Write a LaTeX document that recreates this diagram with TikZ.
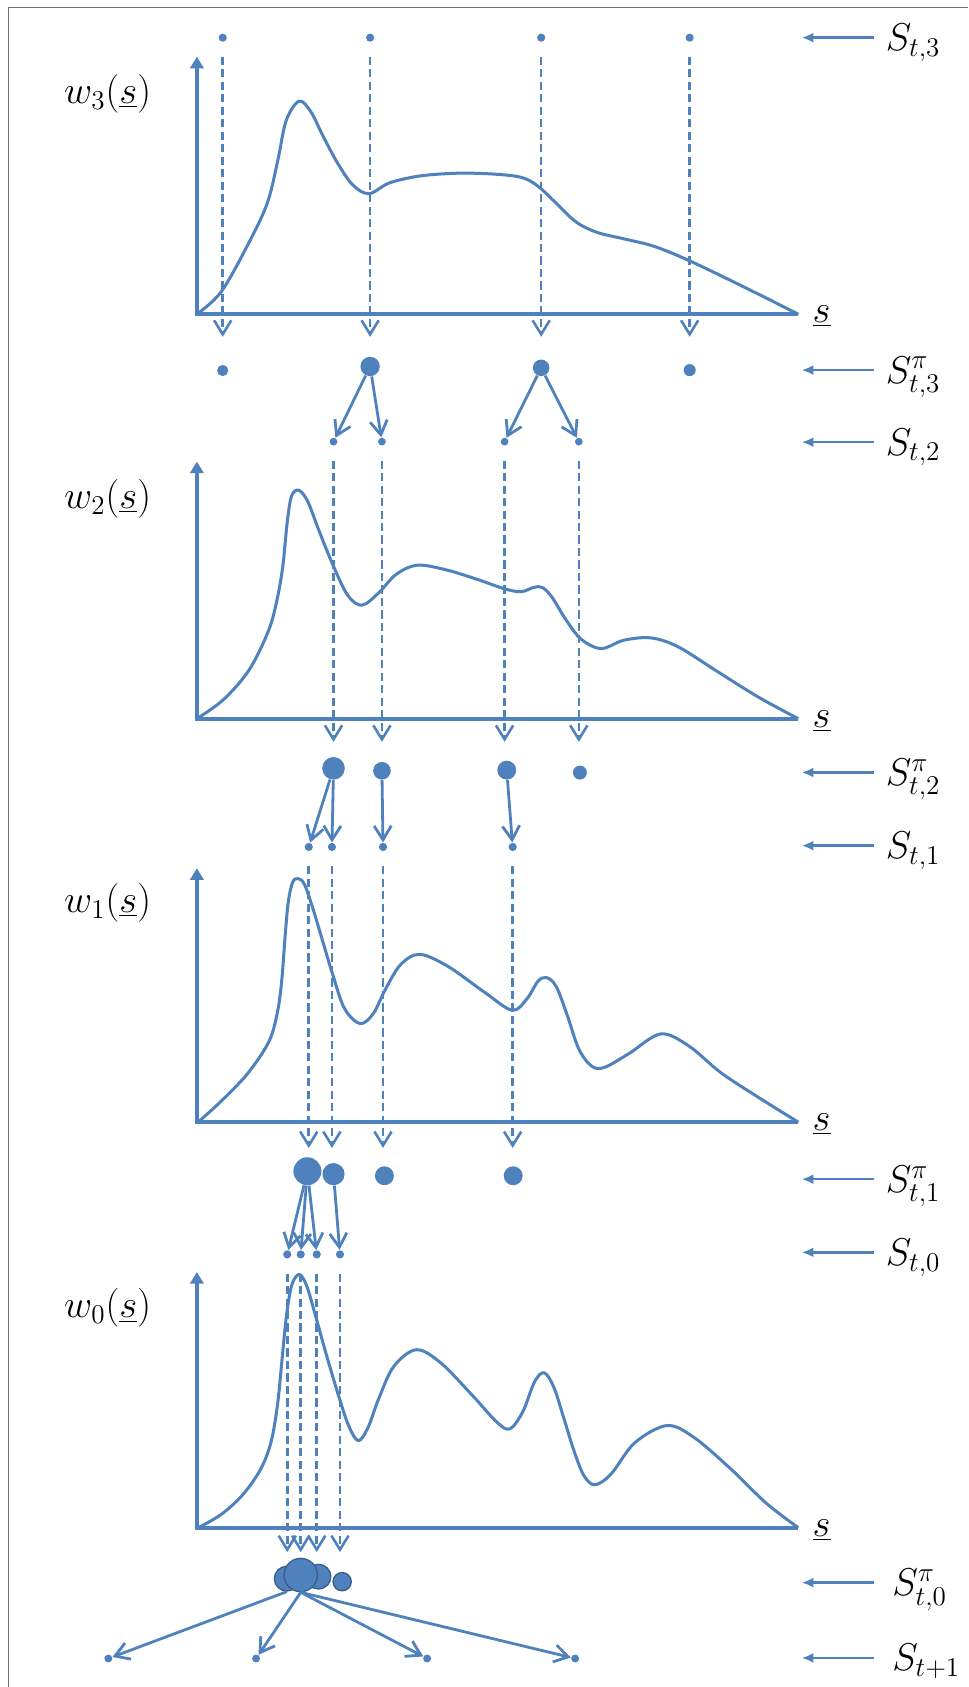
\RequirePackage{fix-cm}
\documentclass[tikz,border=0pt]{standalone}
\usetikzlibrary{arrows.meta}
\definecolor{pblue}{RGB}{79,129,189}
\definecolor{pdark}{RGB}{56,93,138}
\definecolor{framegray}{RGB}{110,110,110}
\begin{document}
\begin{tikzpicture}[x=0.5pt, y=-0.5pt, >={Straight Barb[length=6.5pt,width=8pt]},
  wcurve/.style={draw=pblue, line width=1.4pt, line join=round},
  waxis/.style={draw=pblue, line width=1.8pt, -{Triangle[length=5.4pt,width=6.2pt]}},
  samp/.style={->, draw=pblue, line width=1.2pt, dash pattern=on 3.8pt off 2pt, shorten <=6.8pt},
  resamp/.style={->, draw=pblue, line width=1.3pt},
  ptcl/.style={circle, fill=pblue, inner sep=0pt, minimum size=#1}, ptcl/.default=3.8pt,
  blob/.style={ptcl=#1, draw=pdark, line width=0.6pt},
  rowtag/.style={draw=pblue, line width=1.2pt, -{Latex[length=5.5pt,width=4.6pt]}, shorten <=5.5pt},
  lbl/.style={inner sep=0pt, font=\fontsize{18}{22}\selectfont}]
\useasboundingbox (0,0) rectangle (900,1568);
\draw[framegray, line width=0.7pt] (7.7,1568) -- (7.7,6.8) -- (900,6.8);

\coordinate (tip3) at (0,313);
\node[ptcl] (s3a) at (207,35) {};
\node[ptcl] (s3b) at (344,35) {};
\node[ptcl] (s3c) at (503,35) {};
\node[ptcl] (s3d) at (641,35) {};
\draw[waxis] (742,292) -- (183,292) -- (183,52.7);
\draw[wcurve] plot[smooth, tension=0.55] coordinates {(183,292) (205,272) (228,232) (248,190) (258,150) (266,112) (278,94) (289,104) (300,126) (314,152) (328,172) (343,180) (362,170) (390,163.6) (425,161) (459,161.8) (485,165) (500,173) (515,187) (535,206) (555,216) (580,222) (608,229) (640,242) (690,266) (742,292)};
\node[lbl, anchor=base] (w3) at (100,96) {$w_3(\underline{s})$};
\node[lbl, anchor=base west] (x3) at (755,300) {$\underline{s}$};
\draw[samp] (s3a) -- (s3a |- tip3);
\draw[samp] (s3b) -- (s3b |- tip3);
\draw[samp] (s3c) -- (s3c |- tip3);
\draw[samp] (s3d) -- (s3d |- tip3);
\node[ptcl=5.2pt, anchor=south] (p3a) at (207,350) {};
\node[ptcl=9pt, anchor=south] (p3b) at (344,350) {};
\node[ptcl=7.7pt, anchor=south] (p3c) at (503,350) {};
\node[ptcl=5.6pt, anchor=south] (p3d) at (641,350) {};

\node[ptcl=3.6pt] (s2a) at (310,410.5) {};
\node[ptcl=3.6pt] (s2b) at (355,410.5) {};
\node[ptcl=3.6pt] (s2c) at (469,410.5) {};
\node[ptcl=3.6pt] (s2d) at (538,410.5) {};
\draw[resamp] (p3b) -- (s2a);
\draw[resamp] (p3b) -- (s2b);
\draw[resamp] (p3c) -- (s2c);
\draw[resamp] (p3c) -- (s2d);

\coordinate (tip2) at (0,689.5);
\draw[waxis] (742,668) -- (183,668) -- (183,429);
\draw[wcurve] plot[smooth, tension=0.55] coordinates {(183,668) (208,650) (232,622) (250,585) (258,555) (263,525) (267,485) (271,461) (277.7,455.6) (286,466) (296,492) (309,524) (323,553) (336.4,562.5) (352,551) (368,534) (388,525.3) (416,530) (445,539) (468,547) (484,550) (496,546) (504,546) (513,555) (526,576) (540,594) (558.7,602.8) (580,595) (605,592.9) (630,601) (665,623) (705,648) (742,668)};
\node[lbl, anchor=base] (w2) at (100,473) {$w_2(\underline{s})$};
\node[lbl, anchor=base west] (x2) at (755,676) {$\underline{s}$};
\draw[samp] (s2a) -- (s2a |- tip2);
\draw[samp] (s2b) -- (s2b |- tip2);
\draw[samp] (s2c) -- (s2c |- tip2);
\draw[samp] (s2d) -- (s2d |- tip2);
\node[ptcl=10.5pt, anchor=south] (p2a) at (310,725) {};
\node[ptcl=8.2pt, anchor=south] (p2b) at (355,725) {};
\node[ptcl=8.8pt, anchor=south] (p2c) at (471,725) {};
\node[ptcl=6.5pt, anchor=south] (p2d) at (539,725) {};

\node[ptcl] (s1a) at (287,787.2) {};
\node[ptcl] (s1b) at (308.5,787.2) {};
\node[ptcl] (s1c) at (356,787.2) {};
\node[ptcl] (s1d) at (476.5,787.2) {};
\draw[resamp] (p2a) -- (s1a);
\draw[resamp] (p2a) -- (s1b);
\draw[resamp] (p2b) -- (s1c);
\draw[resamp] (p2c) -- (s1d);

\coordinate (tip1) at (0,1067);
\draw[waxis] (742,1043) -- (183,1043) -- (183,807);
\draw[wcurve] plot[smooth, tension=0.55] coordinates {(183,1044) (205,1024) (230,998) (250,968) (258,940) (262,910) (265,870) (268,838) (272,820) (277,816.6) (283,822) (291,845) (300,875) (309,905) (320,937) (334.6,951.4) (347,942) (358,920) (372,897) (389.7,887) (416,898) (450,922) (476,939) (490,928) (500,912) (508,908.6) (517,917) (527,943) (538,975) (550,991) (562,992) (585,979) (614,961) (640,972) (670,997) (705,1020) (742,1043)};
\node[lbl, anchor=base] (w1) at (100,848) {$w_1(\underline{s})$};
\node[lbl, anchor=base west] (x1) at (755,1051) {$\underline{s}$};
\draw[samp] (s1a) -- (s1a |- tip1);
\draw[samp] (s1b) -- (s1b |- tip1);
\draw[samp] (s1c) -- (s1c |- tip1);
\draw[samp] (s1d) -- (s1d |- tip1);
\node[ptcl=13pt, anchor=south] (p1a) at (285.7,1102) {};
\node[ptcl=10.3pt, anchor=south] (p1b) at (310,1102) {};
\node[ptcl=8.8pt, anchor=south] (p1c) at (357.3,1102) {};
\node[ptcl=8.8pt, anchor=south] (p1d) at (477,1102) {};

\node[ptcl] (s0a) at (267,1165.9) {};
\node[ptcl] (s0b) at (279.5,1165.9) {};
\node[ptcl] (s0c) at (294.4,1165.9) {};
\node[ptcl] (s0d) at (316,1165.9) {};
\draw[resamp] (p1a) -- (s0a);
\draw[resamp] (p1a) -- (s0b);
\draw[resamp] (p1a) -- (s0c);
\draw[resamp] (p1b) -- (s0d);

\coordinate (tip0) at (0,1442.6);
\draw[waxis] (742,1420) -- (183,1420) -- (183,1182.3);
\draw[wcurve] plot[smooth, tension=0.55] coordinates {(184,1420) (205,1408) (225,1390) (242,1366) (252,1340) (258,1305) (262,1265) (266,1225) (271,1195) (278,1184.5) (285,1195) (293,1222) (303,1258) (314,1295) (324,1325) (333,1339) (342,1327) (352,1300) (366,1270) (387,1254.5) (410,1267) (440,1298) (462,1322) (474,1328) (486,1312) (497,1284) (506,1276) (515,1290) (524,1318) (534,1350) (543,1372) (553,1380) (568,1370) (590,1341) (619.8,1325) (645,1336) (680,1366) (712,1397) (742,1420)};
\node[lbl, anchor=base] (w0) at (100,1225) {$w_0(\underline{s})$};
\node[lbl, anchor=base west] (x0) at (755,1428) {$\underline{s}$};
\draw[samp] (s0a) -- (s0a |- tip0);
\draw[samp] (s0b) -- (s0b |- tip0);
\draw[samp] (s0c) -- (s0c |- tip0);
\draw[samp] (s0d) -- (s0d |- tip0);
\node[blob=11.5pt, anchor=south] (p0a) at (266.5,1479.4) {};
\node[blob=11.5pt, anchor=south] (p0c) at (296,1477.5) {};
\node[blob=15.5pt, anchor=south] (p0b) at (279.5,1480) {};
\node[blob=8.5pt, anchor=south] (p0d) at (318,1479.2) {};

\node[ptcl=3.7pt] (n1) at (100.7,1541.5) {};
\node[ptcl=3.7pt] (n2) at (238,1541.5) {};
\node[ptcl=3.7pt] (n3) at (397,1541.5) {};
\node[ptcl=3.7pt] (n4) at (534.6,1541.5) {};
\draw[resamp] (p0a.south) -- (n1);
\draw[resamp] (p0b.south) -- (n2);
\draw[resamp] (p0b.south) -- (n3);
\draw[resamp] (p0b.south) -- (n4);

\coordinate (r3s) at (745,35);
\node[lbl, anchor=base west] (l3s) at (823,47) {$S_{t,3}$};
\draw[rowtag] (l3s.west |- r3s) -- (r3s);
\coordinate (r3p) at (745,344);
\node[lbl, anchor=base west] (l3p) at (823,356) {$S^{\pi}_{t,3}$};
\draw[rowtag] (l3p.west |- r3p) -- (r3p);
\coordinate (r2s) at (745,411);
\node[lbl, anchor=base west] (l2s) at (823,423) {$S_{t,2}$};
\draw[rowtag] (l2s.west |- r2s) -- (r2s);
\coordinate (r2p) at (745,718);
\node[lbl, anchor=base west] (l2p) at (823,730) {$S^{\pi}_{t,2}$};
\draw[rowtag] (l2p.west |- r2p) -- (r2p);
\coordinate (r1s) at (745,786);
\node[lbl, anchor=base west] (l1s) at (823,798) {$S_{t,1}$};
\draw[rowtag] (l1s.west |- r1s) -- (r1s);
\coordinate (r1p) at (745,1096);
\node[lbl, anchor=base west] (l1p) at (823,1108) {$S^{\pi}_{t,1}$};
\draw[rowtag] (l1p.west |- r1p) -- (r1p);
\coordinate (r0s) at (745,1164);
\node[lbl, anchor=base west] (l0s) at (823,1176) {$S_{t,0}$};
\draw[rowtag] (l0s.west |- r0s) -- (r0s);
\coordinate (r0p) at (745,1471);
\node[lbl, anchor=base west] (l0p) at (829,1483) {$S^{\pi}_{t,0}$};
\draw[rowtag, shorten <=8.5pt] (l0p.west |- r0p) -- (r0p);
\coordinate (rnx) at (745,1541);
\node[lbl, anchor=base west] (lnx) at (829,1553) {$S_{t+1}$};
\draw[rowtag, shorten <=8.5pt] (lnx.west |- rnx) -- (rnx);
\end{tikzpicture}
\end{document}
